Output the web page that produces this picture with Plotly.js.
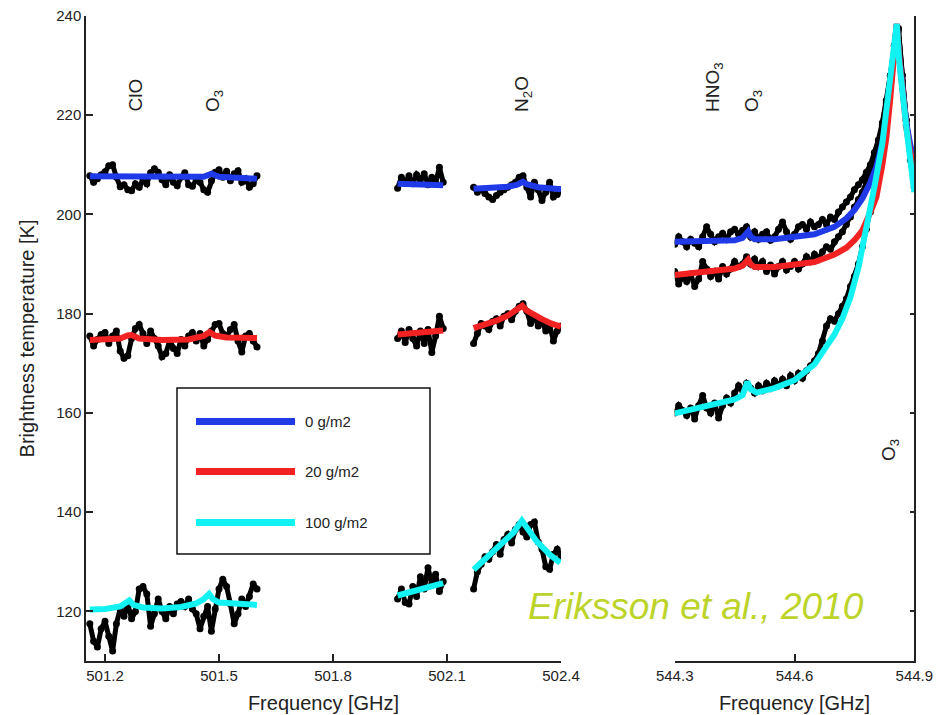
<!DOCTYPE html>
<html>
<head>
<meta charset="utf-8">
<script src="https://cdn.plot.ly/plotly-3.0.1.min.js"></script>
<style>html,body{margin:0;padding:0;background:#fff;}#chart{width:937px;height:715px;}</style>
</head>
<body>
<div id="chart"></div>
<script>
// ---------------- DATA ----------------
// Left panel, segment A (501.16 - 501.60 GHz)
const freqA = [501.16,501.17,501.18,501.19,501.20,501.21,501.22,501.23,501.24,501.25,501.26,501.27,501.28,501.29,501.30,501.31,501.32,501.33,501.34,501.35,501.36,501.37,501.38,501.39,501.40,501.41,501.42,501.43,501.44,501.45,501.46,501.47,501.48,501.49,501.50,501.51,501.52,501.53,501.54,501.55,501.56,501.57,501.58,501.59,501.60];
const obsA_0 = [207.8,206.5,207.2,208.0,208.6,209.8,210.0,207.5,205.6,206.0,205.0,204.8,206.2,205.5,207.0,206.2,208.4,209.2,208.5,207.0,206.0,208.0,206.5,205.8,207.5,208.4,206.0,205.7,207.0,206.5,205.0,204.5,206.8,208.5,209.0,207.5,208.7,206.8,208.2,208.8,206.5,207.2,205.5,206.2,207.8];
const obsA_20 = [175.5,173.5,174.8,175.8,176.2,174.0,175.5,176.5,172.5,171.0,171.5,175.0,177.0,177.8,176.0,174.0,176.5,175.0,173.5,171.3,172.0,174.5,173.0,172.0,174.8,173.5,175.5,176.2,174.5,176.0,173.5,174.8,176.5,177.8,178.0,176.0,175.5,176.8,177.8,174.5,172.3,175.5,176.0,174.5,173.3];
const obsA_100 = [117.5,114.0,112.8,116.5,118.0,115.0,112.0,117.5,120.5,119.0,121.5,118.5,120.0,124.5,125.0,123.5,117.0,119.5,122.5,120.0,118.5,121.0,119.5,121.5,122.0,121.0,122.5,120.5,119.5,116.5,119.0,121.0,116.0,120.5,124.5,126.5,125.0,121.5,117.5,119.5,122.5,121.0,123.0,125.5,124.5];

// Left panel, segment B (501.97 - 502.09 GHz)
const freqB = [501.97,501.98,501.99,502.00,502.01,502.02,502.03,502.04,502.05,502.06,502.07,502.08,502.09];
const obsB_0 = [205.3,207.5,206.5,207.8,206.2,208.0,207.0,208.2,206.0,207.5,206.3,209.5,206.5];
const obsB_20 = [175.0,176.5,174.2,176.8,175.0,173.5,176.5,174.0,176.8,172.2,175.5,179.5,177.0];
const obsB_100 = [122.5,124.5,121.8,121.5,125.0,123.0,127.0,124.5,128.8,125.5,127.5,124.0,126.0];

// Left panel, segment C (502.17 - 502.40 GHz)
const freqC = [502.17,502.18,502.19,502.20,502.21,502.22,502.23,502.24,502.25,502.26,502.27,502.28,502.29,502.30,502.31,502.32,502.33,502.34,502.35,502.36,502.37,502.38,502.39,502.40];
const obsC_0 = [205.5,204.5,205.0,204.2,203.5,203.0,203.8,204.5,205.0,205.5,206.0,206.5,207.5,207.8,205.5,203.5,206.5,205.0,202.8,204.5,206.5,203.5,204.0,205.0];
const obsC_20 = [174.0,176.0,178.0,177.5,176.8,178.5,179.0,177.5,179.5,180.0,178.8,180.5,181.5,182.0,180.5,178.0,179.5,177.5,178.5,176.5,177.8,174.5,176.5,177.5];
const obsC_100 = [124.5,128.0,129.5,131.0,130.5,132.0,133.5,131.5,134.5,135.5,133.8,136.5,137.5,136.0,135.0,137.5,138.0,134.0,132.5,129.0,128.5,131.5,132.5,131.0];

// Right panel (544.30 - 544.90 GHz)
const freqR = [544.30,544.31,544.32,544.33,544.34,544.35,544.36,544.37,544.38,544.39,544.40,544.41,544.42,544.43,544.44,544.45,544.46,544.47,544.48,544.49,544.50,544.51,544.52,544.53,544.54,544.55,544.56,544.57,544.58,544.59,544.60,544.61,544.62,544.63,544.64,544.65,544.66,544.67,544.68,544.69,544.70,544.71,544.72,544.73,544.74,544.75,544.76,544.77,544.78,544.79,544.80,544.81,544.82,544.83,544.84,544.85,544.86,544.87,544.88,544.89,544.90];
const obsR_0 = [194.0,195.5,194.5,193.5,195.0,194.2,193.5,195.5,197.5,196.0,194.5,195.5,196.2,195.0,196.5,197.0,196.0,196.8,197.5,195.5,196.5,195.0,196.0,196.5,194.8,195.5,197.0,198.5,196.5,195.0,196.0,197.5,198.0,197.0,198.5,197.5,198.0,199.0,198.0,199.5,199.0,200.5,201.5,202.5,203.5,205.0,206.0,207.0,208.5,210.0,212.5,215.0,218.5,223.0,228.0,234.0,237.5,228.0,219.0,213.0,210.0];
const obsR_20 = [188.5,186.0,187.5,186.5,188.0,185.5,187.0,190.5,189.0,187.5,188.5,187.0,189.5,188.0,189.0,190.5,189.5,190.0,191.5,190.0,191.0,189.5,190.5,188.5,189.8,188.0,189.5,190.5,188.8,189.5,190.5,189.0,190.0,191.5,190.5,192.0,191.0,192.5,193.5,193.0,194.5,195.5,196.5,198.0,199.5,201.5,203.0,204.5,206.5,208.5,211.0,214.0,218.0,222.5,228.0,234.0,237.5,228.0,219.0,213.0,209.0];
const obsR_100 = [160.0,161.5,160.5,159.5,161.0,158.8,161.5,163.5,161.0,160.0,162.0,159.0,161.5,163.0,162.0,164.0,165.5,164.5,166.0,165.0,164.0,165.5,164.5,166.0,165.0,166.5,165.5,166.8,165.5,167.5,166.5,168.0,167.0,168.5,169.5,170.5,172.0,174.5,177.5,179.0,178.5,180.0,181.5,183.0,185.5,187.5,190.0,193.5,197.0,200.5,205.0,209.5,214.0,220.0,227.0,234.0,237.0,227.0,218.0,211.0,205.5];

// Model spectra (0, 20, 100 g/m2)
const fitA_0_f = [501.16,501.25,501.27,501.29,501.40,501.46,501.48,501.50,501.60];
const fitA_0_T = [207.7,207.6,207.7,207.5,207.4,207.6,208.2,207.6,207.2];
const fitA_20_f = [501.16,501.24,501.26,501.27,501.29,501.35,501.42,501.46,501.475,501.49,501.52,501.60];
const fitA_20_T = [174.7,175.0,175.6,175.7,175.0,174.7,174.8,175.5,176.3,175.6,175.2,175.1];
const fitA_100_f = [501.16,501.20,501.24,501.255,501.264,501.275,501.30,501.35,501.40,501.44,501.46,501.474,501.485,501.50,501.55,501.60];
const fitA_100_T = [120.4,120.5,121.0,121.6,122.2,121.3,120.8,120.6,120.9,121.6,122.5,123.5,122.4,121.8,121.4,121.3];

const fitB_f = [501.97,502.09];
const fitB_0_T = [206.2,205.9];
const fitB_20_T = [175.8,176.6];
const fitB_100_T = [123.2,125.7];

const fitC_0_f = [502.17,502.22,502.26,502.285,502.30,502.31,502.34,502.40];
const fitC_0_T = [205.2,205.3,205.6,206.0,206.6,206.1,205.5,205.1];
const fitC_20_f = [502.17,502.20,502.23,502.26,502.285,502.298,502.31,502.33,502.35,502.375,502.40];
const fitC_20_T = [177.1,177.8,178.6,179.6,180.8,181.6,180.6,179.6,178.9,178.0,177.4];
const fitC_100_f = [502.17,502.204,502.248,502.275,502.297,502.315,502.336,502.371,502.398];
const fitC_100_T = [128.4,130.8,133.9,135.9,138.3,136.2,134.1,131.4,129.8];

const fitR_0_f = [544.30,544.35,544.40,544.45,544.47,544.484,544.49,544.50,544.55,544.60,544.65,544.70,544.73,544.75,544.77,544.79,544.805,544.82,544.83,544.84,544.848,544.856,544.862,544.87,544.88,544.89,544.90];
const fitR_0_T = [194.5,194.5,194.6,194.8,195.3,196.6,195.6,195.0,195.0,195.4,196.0,197.5,199.2,200.9,203.2,206.5,209.6,214.5,218.5,225.0,231.0,238.4,232.0,225.0,218.5,214.0,211.0];
const fitR_20_f = [544.30,544.35,544.40,544.45,544.47,544.484,544.49,544.50,544.55,544.60,544.65,544.70,544.73,544.75,544.77,544.79,544.805,544.82,544.83,544.84,544.848,544.856,544.862,544.87,544.88,544.89,544.90];
const fitR_20_T = [187.8,188.2,188.6,189.1,189.7,190.9,190.0,189.4,189.4,189.8,190.4,191.9,193.3,194.8,196.8,200.5,203.5,210.0,215.5,223.5,230.5,238.4,232.0,224.5,217.5,212.5,209.5];
const fitR_100_f = [544.30,544.35,544.40,544.45,544.47,544.482,544.49,544.505,544.55,544.60,544.65,544.68,544.70,544.72,544.74,544.76,544.78,544.80,544.82,544.835,544.845,544.856,544.862,544.87,544.88,544.89,544.90];
const fitR_100_T = [159.9,160.9,161.8,162.7,163.6,166.3,164.8,164.1,165.0,166.6,169.8,173.2,175.8,179.0,183.3,189.3,197.0,205.5,214.3,223.5,230.5,238.4,231.0,224.0,217.6,211.0,204.5];

const leftTicks = [501.2,501.5,501.8,502.1,502.4];
const leftTickText = ['501.2','501.5','501.8','502.1','502.4'];
const rightTicks = [544.3,544.6,544.9];
const rightTickText = ['544.3','544.6','544.9'];
const yTicks = [120,140,160,180,200,220,240];
const seriesNames = ['0 g/m2','20 g/m2','100 g/m2'];

// ---------------- STYLE ----------------
const BLUE = '#1f3ae6', RED = '#f22222', CYAN = '#12f2f2';
const colors = [BLUE, RED, CYAN];
const FONT = 'Liberation Sans, Arial, Helvetica, sans-serif';
const INK = '#222';

function obs(x, y, xa, ya) {
  return {x: x, y: y, xaxis: xa, yaxis: ya, type: 'scatter', mode: 'lines+markers',
    line: {color: '#000', width: 5}, marker: {color: '#000', size: 7}, showlegend: false, hoverinfo: 'skip'};
}
function fit(x, y, color, xa, ya, name) {
  return {x: x, y: y, xaxis: xa, yaxis: ya, type: 'scatter', mode: 'lines', name: name,
    line: {color: color, width: 6}, showlegend: false};
}

const traces = [
  obs(freqA, obsA_0, 'x', 'y'), obs(freqA, obsA_20, 'x', 'y'), obs(freqA, obsA_100, 'x', 'y'),
  obs(freqB, obsB_0, 'x', 'y'), obs(freqB, obsB_20, 'x', 'y'), obs(freqB, obsB_100, 'x', 'y'),
  obs(freqC, obsC_0, 'x', 'y'), obs(freqC, obsC_20, 'x', 'y'), obs(freqC, obsC_100, 'x', 'y'),
  obs(freqR, obsR_0, 'x2', 'y2'), obs(freqR, obsR_20, 'x2', 'y2'), obs(freqR, obsR_100, 'x2', 'y2'),
  fit(fitA_0_f, fitA_0_T, BLUE, 'x', 'y', seriesNames[0]),
  fit(fitA_20_f, fitA_20_T, RED, 'x', 'y', seriesNames[1]),
  fit(fitA_100_f, fitA_100_T, CYAN, 'x', 'y', seriesNames[2]),
  fit(fitB_f, fitB_0_T, BLUE, 'x', 'y', seriesNames[0]),
  fit(fitB_f, fitB_20_T, RED, 'x', 'y', seriesNames[1]),
  fit(fitB_f, fitB_100_T, CYAN, 'x', 'y', seriesNames[2]),
  fit(fitC_0_f, fitC_0_T, BLUE, 'x', 'y', seriesNames[0]),
  fit(fitC_20_f, fitC_20_T, RED, 'x', 'y', seriesNames[1]),
  fit(fitC_100_f, fitC_100_T, CYAN, 'x', 'y', seriesNames[2]),
  fit(fitR_0_f, fitR_0_T, BLUE, 'x2', 'y2', seriesNames[0]),
  fit(fitR_20_f, fitR_20_T, RED, 'x2', 'y2', seriesNames[1]),
  fit(fitR_100_f, fitR_100_T, CYAN, 'x2', 'y2', seriesNames[2])
];

const W = 937, H = 715;
const px = v => v / W;          // pixel -> paper x
const py = v => 1 - v / H;      // pixel -> paper y
const yDomain = [py(661), py(16)];

const axisCommon = {
  showline: true, linecolor: INK, linewidth: 1.5, showgrid: false, zeroline: false,
  ticks: 'inside', ticklen: 7, tickwidth: 1.5, tickcolor: INK,
  tickfont: {family: FONT, size: 15, color: INK}
};

// custom legend (long line samples as in the original)
const legendYs = [421.5, 471.5, 522.5];
const shapes = [{type: 'rect', xref: 'paper', yref: 'paper', x0: px(177), x1: px(430), y0: py(554), y1: py(388),
  line: {color: '#111', width: 1.5}, fillcolor: 'rgba(255,255,255,0)', layer: 'above'}];
const annotations = [];
for (let i = 0; i < 3; i++) {
  shapes.push({type: 'line', xref: 'paper', yref: 'paper', x0: px(196), x1: px(295), y0: py(legendYs[i]), y1: py(legendYs[i]),
    line: {color: colors[i], width: 7}});
  annotations.push({xref: 'paper', yref: 'paper', x: px(303), y: py(legendYs[i]), xanchor: 'left', yanchor: 'middle',
    text: seriesNames[i], showarrow: false, font: {family: FONT, size: 15, color: INK}});
}
// species labels
const lab = (text, cx, bottom) => ({xref: 'paper', yref: 'paper', x: px(cx), y: py(bottom), xanchor: 'center', yanchor: 'bottom',
  text: text, textangle: -90, showarrow: false, font: {family: FONT, size: 19, color: INK}});
annotations.push(lab('ClO', 135, 114));
annotations.push(lab('O<sub>3</sub>', 214, 114));
annotations.push(lab('N<sub>2</sub>O', 523, 114));
annotations.push(lab('HNO<sub>3</sub>', 714, 114));
annotations.push(lab('O<sub>3</sub>', 753, 114));
annotations.push(lab('O<sub>3</sub>', 890, 463));
annotations.push({xref: 'paper', yref: 'paper', x: px(866), y: py(606), xanchor: 'right', yanchor: 'middle',
  text: '<i>Eriksson et al., 2010</i>', showarrow: false, font: {family: FONT, size: 37, color: '#bcd42a'}});

const layout = {
  width: W, height: H, autosize: false,
  margin: {l: 0, r: 0, t: 0, b: 0, pad: 0},
  paper_bgcolor: '#fff', plot_bgcolor: '#fff',
  showlegend: false,
  font: {family: FONT, color: INK},
  xaxis: Object.assign({}, axisCommon, {domain: [px(86), px(561)], range: [501.15, 502.4], anchor: 'y',
    tickvals: leftTicks, ticktext: leftTickText,
    title: {text: 'Frequency [GHz]', font: {family: FONT, size: 20, color: INK}, standoff: 13}}),
  xaxis2: Object.assign({}, axisCommon, {domain: [px(674.7), px(914.3)], range: [544.3, 544.9], anchor: 'y2',
    tickvals: rightTicks, ticktext: rightTickText,
    title: {text: 'Frequency [GHz]', font: {family: FONT, size: 20, color: INK}, standoff: 13}}),
  yaxis: Object.assign({}, axisCommon, {domain: yDomain, range: [110, 240], anchor: 'x',
    tickvals: yTicks, ticktext: yTicks.map(String),
    title: {text: 'Brightness temperature [K]', font: {family: FONT, size: 20, color: INK}, standoff: 16}}),
  yaxis2: Object.assign({}, axisCommon, {domain: yDomain, range: [110, 240], anchor: 'x2', side: 'right',
    tickvals: yTicks, showticklabels: false, ticklen: 5}),
  shapes: shapes,
  annotations: annotations
};

Plotly.newPlot('chart', traces, layout, {displayModeBar: false});
</script>
</body>
</html>
